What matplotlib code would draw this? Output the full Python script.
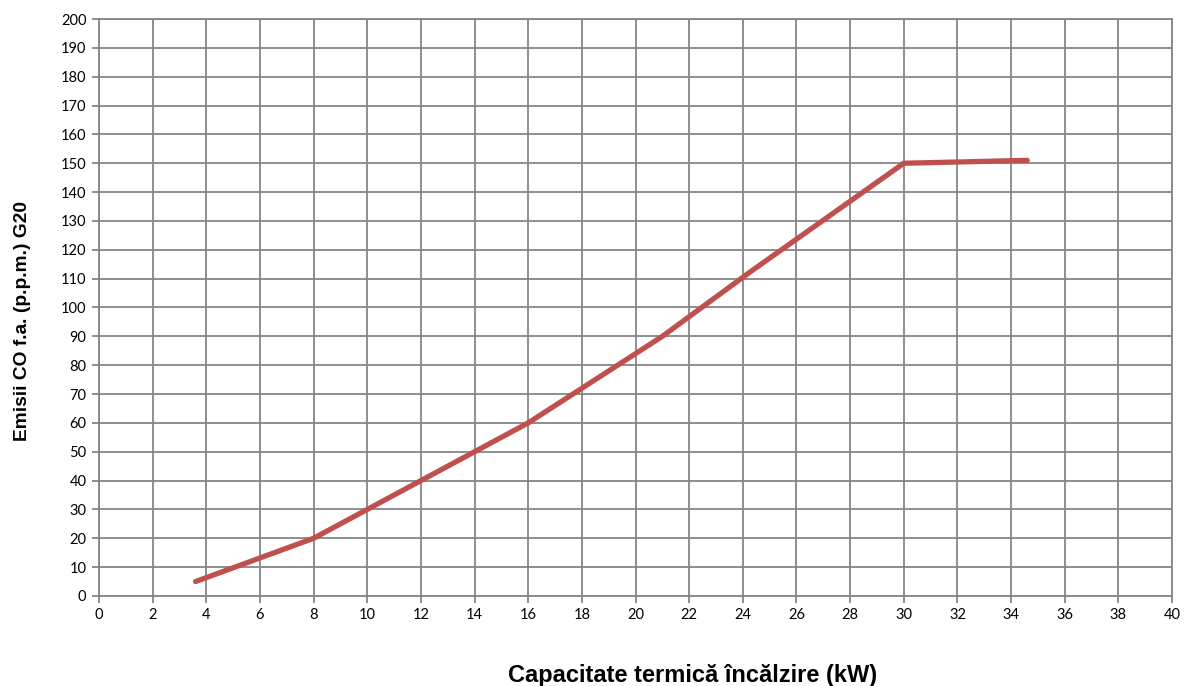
import matplotlib.pyplot as plt
import numpy as np

# date
putere_kw = [3.6, 8, 16, 21, 24.3, 30, 34.6]
emisii_co = [5, 20, 60, 90, 112.5, 150, 151]

x_ticks = np.arange(0, 41, 2)
y_ticks = np.arange(0, 201, 10)

fig = plt.figure(figsize=(11.84, 6.86), dpi=100)
ax = fig.add_axes([0.0836, 0.1312, 0.9063, 0.8411])

ax.plot(putere_kw, emisii_co, color='#C0504D', linewidth=3.8,
        solid_capstyle='round', solid_joinstyle='round', zorder=3)

ax.set_xlim(0, 40)
ax.set_ylim(0, 200)
ax.set_xticks(x_ticks)
ax.set_yticks(y_ticks)
ax.grid(True, color='#868686', linewidth=1.3)
ax.set_axisbelow(True)
for s in ax.spines.values():
    s.set_color('#868686')
    s.set_linewidth(1.3)

ax.tick_params(direction='out', length=5, width=1.3, color='#868686',
               labelsize=10.5, pad=4)
for lbl in ax.get_xticklabels() + ax.get_yticklabels():
    lbl.set_family('Lato')

# etichete axe (pozitionate ca in original)
fig.text(0.585, 0.0146, 'Capacitate termică încălzire (kW)', fontsize=17,
         fontweight='bold', family='Liberation Sans', ha='center', va='center')
fig.text(0.019, 0.532, 'Emisii CO f.a. (p.p.m.) G20', fontsize=13.8,
         fontweight='bold', family='Liberation Sans', ha='center', va='center',
         rotation=90)

plt.savefig('out.png', dpi=100)
